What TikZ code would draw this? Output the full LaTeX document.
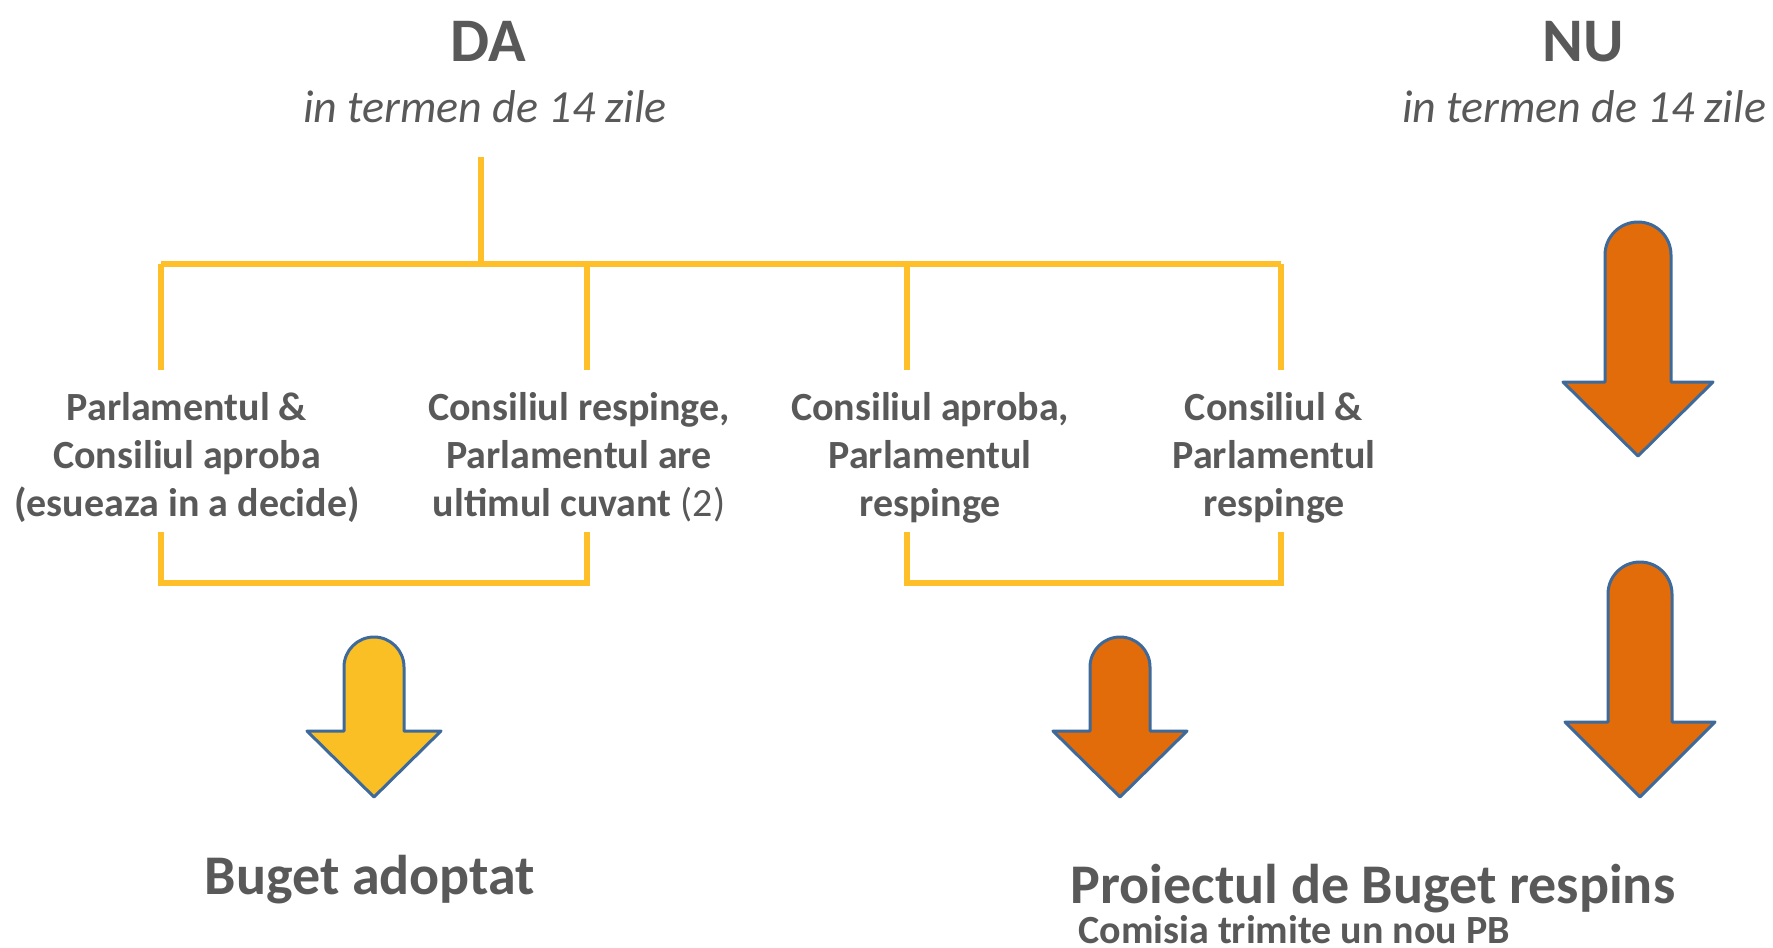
\documentclass[tikz,border=0pt]{standalone}
\usepackage{fontspec}
\setmainfont{Carlito}
\definecolor{txtgray}{HTML}{595959}
\definecolor{linegold}{HTML}{FFBF29}
\definecolor{arrowgold}{HTML}{FBBF26}
\definecolor{arroworange}{HTML}{E36C0A}
\definecolor{arrowedge}{HTML}{3D6A9B}
\newcommand\downarrowshape[7]{%
  \path[arrowbody, fill=#7]
    ({#1-#3},{#4}) -- ({#1-#3},{#2+#3})
    .. controls ({#1-#3},{#2+#3-0.5523*#3}) and ({#1-0.5523*#3},{#2}) .. ({#1},{#2})
    .. controls ({#1+0.5523*#3},{#2}) and ({#1+#3},{#2+#3-0.5523*#3}) .. ({#1+#3},{#2+#3})
    -- ({#1+#3},{#4}) -- ({#1+#5},{#4}) -- ({#1},{#6}) -- ({#1-#5},{#4}) -- cycle;}
\begin{document}
\begin{tikzpicture}[x=0.5pt,y=-0.5pt,
  bracket/.style={draw=linegold, line width=2.6pt},
  arrowbody/.style={draw=arrowedge, line width=1.5pt, line join=round},
  head/.style={inner sep=0pt, text=txtgray, font=\bfseries\fontsize{31}{37}\selectfont, anchor=base},
  sub/.style={inner sep=0pt, text=txtgray, font=\itshape\fontsize{23}{27.5}\selectfont, anchor=base},
  case/.style={inner sep=0pt, text=txtgray, font=\bfseries\fontsize{20}{24}\selectfont, align=center, anchor=base},
  result/.style={inner sep=0pt, text=txtgray, font=\bfseries\fontsize{28}{33}\selectfont, anchor=base},
  note/.style={inner sep=0pt, text=txtgray, font=\bfseries\fontsize{20}{24}\selectfont, anchor=base west}]
\useasboundingbox (0,0) rectangle (1773,948);
\fill[white] (0,0) rectangle (1773,948);

% headings
\node[head] (da) at (488,61) {DA};
\node[sub] (dasub) at (485,122) {in termen de 14 zile};
\node[head] (nu) at (1583,61) {NU};
\node[sub] (nusub) at (1584,122) {in termen de 14 zile};

% tree coordinates
\coordinate (stemtop) at (481,157);
\coordinate (stembot) at (481,264);
\coordinate (h1) at (161,264);
\coordinate (h2) at (587,264);
\coordinate (h3) at (907,264);
\coordinate (h4) at (1281,264);
\coordinate (d1) at (161,370);
\coordinate (d2) at (587,370);
\coordinate (d3) at (907,370);
\coordinate (d4) at (1281,370);
\coordinate (u1) at (161,532);
\coordinate (u2) at (587,532);
\coordinate (u3) at (907,532);
\coordinate (u4) at (1281,532);
\coordinate (b1) at (161,583);
\coordinate (b2) at (587,583);
\coordinate (b3) at (907,583);
\coordinate (b4) at (1281,583);

\draw[bracket] (stemtop) -- (stembot);
\draw[bracket] (h1) -- (h4);
\draw[bracket] (h1) -- (d1);
\draw[bracket] (h2) -- (d2);
\draw[bracket] (h3) -- (d3);
\draw[bracket] (h4) -- (d4);
\draw[bracket, line join=miter] (u1) -- (b1) -- (b2) -- (u2);
\draw[bracket, line join=miter] (u3) -- (b3) -- (b4) -- (u4);

% cases
\node[case] (c1) at (187,516) {Parlamentul \&\\Consiliul aproba\\(esueaza in a decide)};
\node[case] (c2) at (579,516) {Consiliul respinge,\\Parlamentul are\\ultimul cuvant {\mdseries(2)}};
\node[case] (c3) at (930,516) {Consiliul aproba,\\Parlamentul\\respinge};
\node[case] (c4) at (1274,516) {Consiliul \&\\Parlamentul\\respinge};

% arrows
\downarrowshape{374}{637}{30}{731}{67}{797}{arrowgold}
\downarrowshape{1120}{637}{30}{731}{67}{797}{arroworange}
\downarrowshape{1638}{222}{33}{382}{75}{456}{arroworange}
\downarrowshape{1640}{562}{32}{722}{75}{797}{arroworange}

% results
\node[result] (adoptat) at (370,894) {Buget adoptat};
\node[result] (respins) at (1373,903) {Proiectul de Buget respins};
\node[note] (comisia) at (1078,943) {Comisia trimite un nou PB};
\end{tikzpicture}
\end{document}
